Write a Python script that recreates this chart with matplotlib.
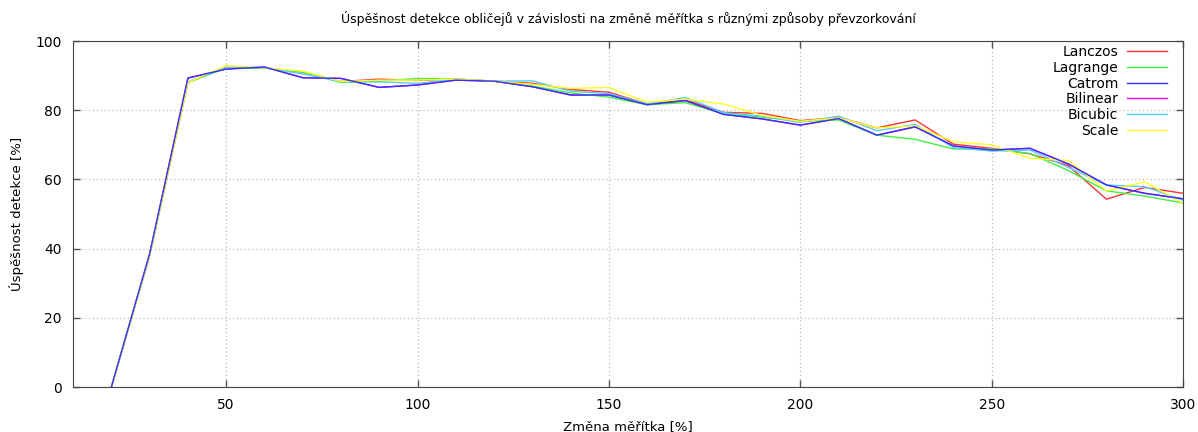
import matplotlib
matplotlib.use("Agg")
import matplotlib.pyplot as plt

scale = [20, 30, 40, 50, 60, 70, 80, 90, 100, 110, 120, 130, 140, 150, 160,
         170, 180, 190, 200, 210, 220, 230, 240, 250, 260, 270, 280, 290, 300]

lanczos = [0, 38, 88.0, 92.4, 92.2, 91.0, 88.3, 89.0, 88.6, 89.0, 88.4, 87.8, 86.0, 85.2, 81.8,
           83.0, 79.4, 79.1, 77.0, 77.9, 74.9, 77.2, 70.2, 69.0, 67.4, 64.0, 54.3, 57.7, 56.0]
lagrange = [0, 38, 88.0, 92.2, 92.2, 91.0, 88.0, 88.4, 89.2, 89.0, 88.4, 87.0, 85.0, 83.8, 81.6,
            82.2, 79.0, 78.0, 76.8, 77.2, 72.8, 71.6, 68.8, 68.8, 67.5, 62.6, 56.7, 55.2, 53.2]
catrom = [0, 38.5, 89.3, 91.9, 92.5, 89.4, 89.2, 86.6, 87.3, 88.7, 88.4, 86.8, 84.4, 84.4, 81.6,
          82.8, 78.8, 77.5, 75.7, 77.6, 72.8, 75.2, 69.7, 68.5, 69.0, 64.5, 58.4, 56.0, 54.4]
bilinear = [0, 38.5, 89.3, 91.9, 92.5, 89.4, 89.2, 86.6, 87.3, 88.7, 88.4, 86.8, 84.4, 84.4, 81.6,
            82.8, 78.8, 77.5, 75.7, 77.6, 72.8, 75.2, 69.7, 68.5, 69.0, 64.5, 58.4, 56.0, 54.4]
bicubic = [0, 38, 88.2, 92.3, 92.3, 90.5, 88.3, 88.2, 87.8, 89.0, 88.4, 88.5, 85.5, 84.8, 81.8,
           83.7, 79.3, 78.3, 76.5, 78.3, 74.1, 75.9, 69.2, 68.2, 68.5, 63.5, 58.4, 57.9, 54.0]
scale_ = [0, 38, 88.0, 92.9, 92.3, 91.3, 88.3, 88.7, 88.7, 89.0, 88.4, 87.5, 86.3, 86.6, 82.3,
          83.2, 81.8, 78.5, 76.8, 77.8, 74.9, 75.5, 70.9, 70.0, 66.1, 65.5, 56.7, 59.3, 53.1]

names = ["Lanczos", "Lagrange", "Catrom", "Bilinear", "Bicubic", "Scale"]
series = [lanczos, lagrange, catrom, bilinear, bicubic, scale_]
colors = ["#ff3333", "#44ee44", "#3333ff", "#ff00ff", "#55ccff", "#ffff22"]
# bilinear hides under catrom in the original
zorders = [2, 2, 3, 1, 2, 2]

fig = plt.figure(figsize=(11.98, 4.32), dpi=100)
ax = fig.add_axes([0.061, 0.104, 0.9265, 0.801])

for name, ys, c, z in zip(names, series, colors, zorders):
    ax.plot(scale, ys, color=c, linewidth=1.0, label=name, zorder=z)

ax.set_xlim(10, 300)
ax.set_ylim(0, 100)
ax.set_xticks([50, 100, 150, 200, 250, 300])
ax.set_yticks([0, 20, 40, 60, 80, 100])
ax.grid(True, color="#b0b0b0", linestyle=(0, (1, 2.5)), linewidth=0.8)
ax.tick_params(direction="in", top=True, right=True, length=5, width=1,
               color="#555555", labelsize=10, pad=8)
for s in ax.spines.values():
    s.set_color("#444444")

ax.set_title("Úspěšnost detekce obličejů v závislosti na změně měřítka s různými způsoby převzorkování",
             fontsize=9, pad=13)
ax.set_xlabel("Změna měřítka [%]", fontsize=9.5, labelpad=6)
ax.set_ylabel("Úspěšnost detekce [%]", fontsize=9.5, labelpad=8)

ax.legend(loc="upper right", frameon=False, markerfirst=False, fontsize=10,
          handlelength=2.9, labelspacing=0.12, borderaxespad=0.2, handletextpad=0.6,
          bbox_to_anchor=(0.993, 1.012))

fig.savefig("out.png", dpi=100)
